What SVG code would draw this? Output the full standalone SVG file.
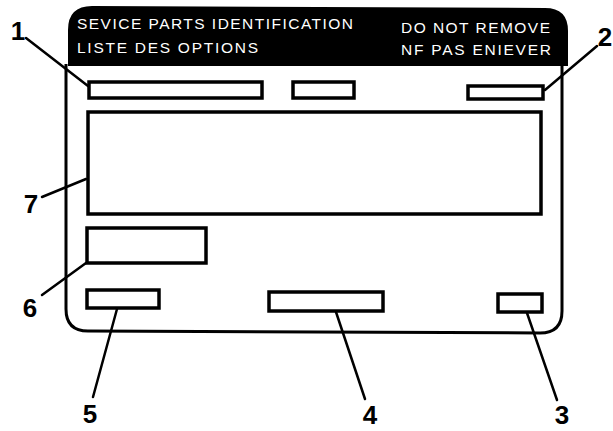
<svg xmlns="http://www.w3.org/2000/svg" width="613" height="431" viewBox="0 0 613 431">
<style>
.box{fill:#fff;stroke:#000;stroke-width:3.5}
.outline{fill:none;stroke:#000;stroke-width:3}
.lead{stroke:#000;stroke-width:2.5;fill:none;stroke-linecap:round}
.hdr{font-family:"Liberation Sans",Arial,sans-serif;font-size:15.5px;fill:#fff}
.num{font-family:"Liberation Sans",Arial,sans-serif;font-size:26px;font-weight:bold;fill:#000}
</style>
<rect width="613" height="431" fill="#fff"/>
<g id="label">
<path d="M68,66 L68,30 Q68,6 92,6 L545,8 Q568,8 568,31 L568,66 Z" fill="#000"/>
<path class="outline" d="M66,64 L66,309 Q66,331 88,331 L540,333 Q562,333 562,311 L562,64"/>
<text class="hdr" x="77" y="29" textLength="276" lengthAdjust="spacing">SEVICE PARTS IDENTIFICATION</text>
<text class="hdr" x="77" y="53" textLength="181" lengthAdjust="spacing">LISTE DES OPTIONS</text>
<text class="hdr" x="401" y="33" textLength="149" lengthAdjust="spacing">DO NOT REMOVE</text>
<text class="hdr" x="401" y="55" textLength="150" lengthAdjust="spacing">NF PAS ENIEVER</text>
</g>
<g id="field1"><rect class="box" x="89" y="82" width="173" height="16"/></g>
<g id="field-mid"><rect class="box" x="293" y="82" width="61" height="16"/></g>
<g id="field2"><rect class="box" x="468" y="86" width="75" height="13"/></g>
<g id="field7"><rect class="box" x="88" y="112" width="453" height="102"/></g>
<g id="field6"><rect class="box" x="87" y="228" width="119" height="35"/></g>
<g id="field5"><rect class="box" x="87" y="290" width="72" height="18"/></g>
<g id="field4"><rect class="box" x="269" y="292" width="114" height="19"/></g>
<g id="field3"><rect class="box" x="498" y="294" width="44" height="18"/></g>
<g id="connectors">
<line class="lead" x1="26" y1="38" x2="88" y2="86"/>
<line class="lead" x1="597" y1="46" x2="545" y2="90"/>
<line class="lead" x1="42" y1="197" x2="86" y2="179"/>
<line class="lead" x1="42" y1="295" x2="86" y2="263"/>
<line class="lead" x1="117" y1="309" x2="93" y2="397"/>
<line class="lead" x1="336" y1="312" x2="365" y2="399"/>
<line class="lead" x1="527" y1="313" x2="557" y2="400"/>
</g>
<g id="labels">
<text class="num" x="18" y="40" text-anchor="middle">1</text>
<text class="num" x="605" y="46" text-anchor="middle">2</text>
<text class="num" x="31" y="213" text-anchor="middle">7</text>
<text class="num" x="30" y="317" text-anchor="middle">6</text>
<text class="num" x="90" y="423" text-anchor="middle">5</text>
<text class="num" x="370" y="424" text-anchor="middle">4</text>
<text class="num" x="562" y="424" text-anchor="middle">3</text>
</g>
</svg>
